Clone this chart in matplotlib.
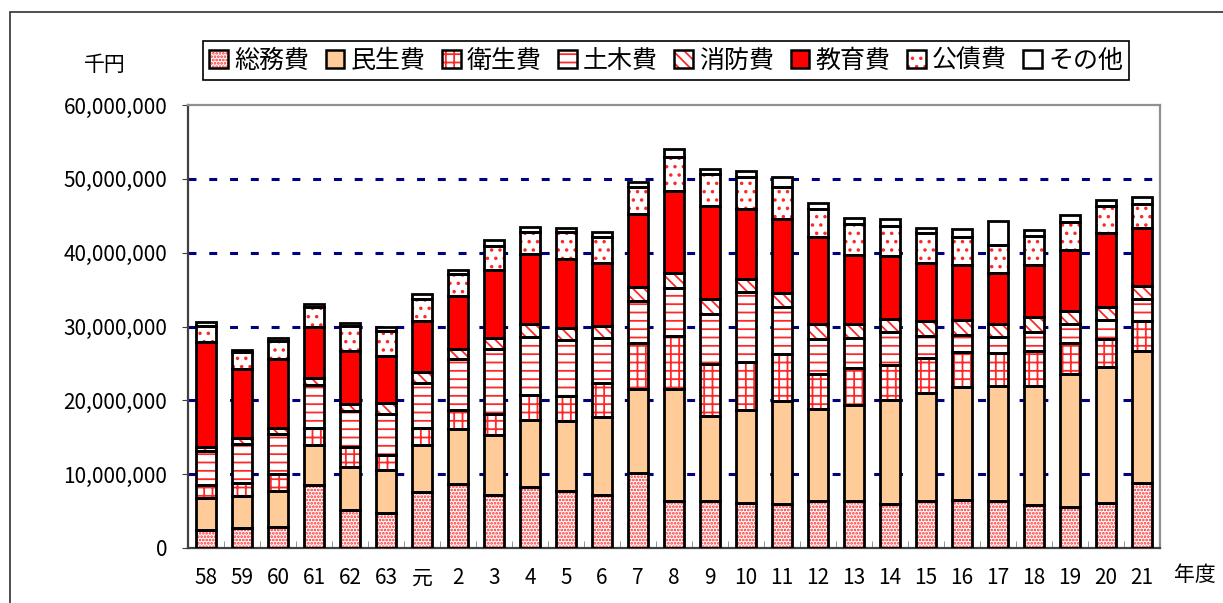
# 目的別歳出の推移（昭和58年度～平成21年度）
import numpy as np
import matplotlib.pyplot as plt
from matplotlib.patches import Patch, Rectangle
from matplotlib.legend_handler import HandlerTuple
from matplotlib.ticker import FuncFormatter, FixedLocator

plt.rcParams['font.family'] = ['Noto Sans CJK JP', 'DejaVu Sans']
plt.rcParams['hatch.linewidth'] = 1.3

years = ['58', '59', '60', '61', '62', '63', '元', '2', '3', '4', '5', '6', '7', '8',
         '9', '10', '11', '12', '13', '14', '15', '16', '17', '18', '19', '20', '21']

# 単位：百万千円（=10億円）
somu    = [2.4, 2.7, 2.9, 8.6, 5.1, 4.8, 7.6, 8.7, 7.2, 8.3, 7.7, 7.2, 10.2, 6.3,
           6.3, 6.1, 5.9, 6.3, 6.4, 6.0, 6.3, 6.5, 6.3, 5.8, 5.6, 6.1, 8.8]
minsei  = [4.4, 4.3, 4.8, 5.3, 5.9, 5.8, 6.4, 7.4, 8.1, 9.1, 9.5, 10.6, 11.4, 15.3,
           11.6, 12.6, 14.0, 12.5, 13.0, 14.1, 14.7, 15.3, 15.6, 16.2, 18.0, 18.4, 17.9]
eisei   = [1.7, 1.8, 2.3, 2.4, 2.7, 2.0, 2.3, 2.6, 2.9, 3.3, 3.4, 4.6, 6.1, 7.1,
           7.0, 6.5, 6.4, 4.8, 5.0, 4.7, 4.8, 4.8, 4.5, 4.7, 4.1, 3.8, 4.0]
doboku  = [4.7, 5.3, 5.4, 5.8, 4.8, 5.6, 6.1, 6.9, 8.7, 7.9, 7.6, 6.1, 5.8, 6.5,
           6.8, 9.5, 6.4, 4.7, 4.1, 4.4, 2.9, 2.2, 2.2, 2.5, 2.6, 2.6, 3.0]
shobo   = [0.5, 0.8, 0.8, 0.9, 1.0, 1.4, 1.5, 1.4, 1.5, 1.8, 1.6, 1.6, 1.9, 2.0,
           2.0, 1.8, 1.9, 2.0, 1.9, 1.8, 2.0, 2.1, 1.7, 2.1, 1.8, 1.8, 1.8]
kyoiku  = [14.2, 9.4, 9.4, 7.0, 7.2, 6.4, 6.8, 7.1, 9.3, 9.4, 9.4, 8.5, 9.8, 11.2,
           12.6, 9.4, 9.9, 11.8, 9.3, 8.5, 7.9, 7.4, 6.9, 7.0, 8.3, 9.9, 7.8]
kosai   = [2.2, 2.2, 2.5, 2.6, 3.4, 3.4, 3.0, 3.0, 3.2, 3.0, 3.6, 3.5, 3.7, 4.6,
           4.3, 4.3, 4.4, 3.8, 4.2, 4.1, 4.0, 3.8, 3.9, 4.0, 3.8, 3.7, 3.3]
sonota  = [0.5, 0.3, 0.4, 0.4, 0.4, 0.5, 0.7, 0.6, 0.8, 0.7, 0.6, 0.7, 0.7, 1.0,
           0.7, 0.8, 1.3, 0.8, 0.8, 0.9, 0.8, 1.1, 3.2, 0.8, 0.9, 0.8, 1.0]

labels = ['総務費', '民生費', '衛生費', '土木費', '消防費', '教育費', '公債費', 'その他']
series = [somu, minsei, eisei, doboku, shobo, kyoiku, kosai, sonota]
faces = ['white', '#FFCC99', 'white', 'white', 'white', '#FF0000', 'white', 'white']
hatches = ['.....', None, '++', '--', '\\\\\\', None, '..', None]

fig = plt.figure(figsize=(12.23, 6.03), dpi=100)
ax = fig.add_axes([188 / 1223, 1 - 548 / 603, 972 / 1223, 443 / 603])

x = np.arange(len(years))
w = 0.53
bottom = np.zeros(len(years))
handles = []
for vals, lab, fc, h in zip(series, labels, faces, hatches):
    v = np.array(vals) * 1e6
    ax.bar(x, v, w, bottom=bottom, color=fc, hatch=h, edgecolor='#FF2828',
           linewidth=0, zorder=2)
    ax.bar(x, v, w, bottom=bottom, fill=False, edgecolor='black',
           linewidth=2.0, zorder=3)
    bottom += v
    handles.append((Patch(facecolor=fc, hatch=h, edgecolor='#FF2828', linewidth=0),
                    Patch(fill=False, edgecolor='black', linewidth=1.8)))

ax.set_xlim(-0.5, len(years) - 0.5)
ax.set_ylim(0, 60e6)
ax.set_yticks(np.arange(0, 60e6 + 1, 10e6))
ax.yaxis.set_major_formatter(FuncFormatter(lambda v, p: f'{int(v):,}'))
ax.set_xticks(x)
ax.set_xticklabels(years)
ax.xaxis.set_minor_locator(FixedLocator(x[:-1] + 0.5))
ax.tick_params(axis='x', which='major', length=0, pad=14, labelsize=15)
ax.tick_params(axis='x', which='minor', length=5, direction='in', color='#808080')
ax.tick_params(axis='y', length=4, color='#404040', labelsize=15, pad=11)

for y in np.arange(10e6, 60e6, 10e6):
    ax.axhline(y, color='#000080', linewidth=2.2, linestyle=(0, (2.6, 4.2)), zorder=1)

ax.spines['left'].set_color('#404040')
ax.spines['bottom'].set_color('#404040')
ax.spines['top'].set_color('#909090')
ax.spines['right'].set_color('#909090')
for s in ax.spines.values():
    s.set_linewidth(1.6)

leg = ax.legend(handles, labels, handler_map={tuple: HandlerTuple(ndivide=1)},
                loc='center', bbox_to_anchor=(0.492, 1.10), ncol=8, fontsize=18,
                handlelength=0.75, handleheight=0.75, handletextpad=0.25,
                columnspacing=0.65, borderpad=0.25, fancybox=False, framealpha=1,
                edgecolor='black')
leg.get_frame().set_linewidth(1.2)

fig.text(105 / 1223, 1 - 65 / 603, '千円', fontsize=15, ha='center', va='center')
fig.text(1195 / 1223, 1 - 575 / 603, '年度', fontsize=15, ha='center', va='center')

fig.patches.append(Rectangle((10 / 1223, -0.1), 1.2, 1.1 - 12 / 603,
                             transform=fig.transFigure, fill=False,
                             edgecolor='#303030', linewidth=1.2))

plt.savefig('out.png', dpi=100)
